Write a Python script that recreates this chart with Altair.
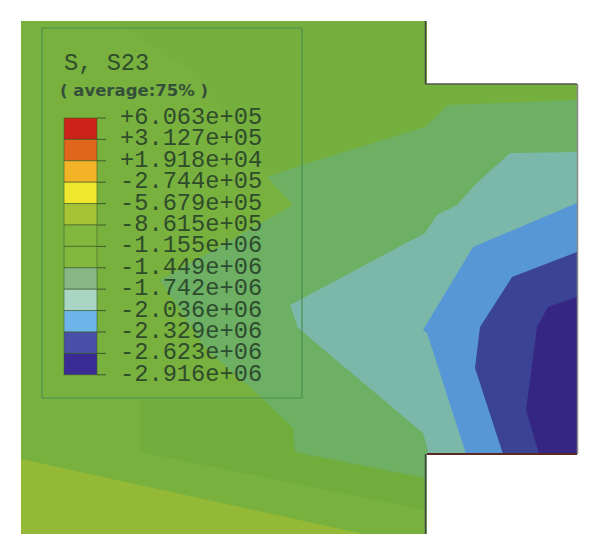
import altair as alt
import pandas as pd

# contour boundaries: region extends from x (at height y) to its right edge
c_low_y = [459, 534]
c_low_x = [21, 363]
c_top_y = [21, 40, 75, 177, 205]
c_top_x = [115, 143, 197, 267, 293]
c_dark_y = [400, 452, 510, 534]
c_dark_x = [140, 140, 425, 425]
c_mid_y = [100, 105, 127, 165, 177, 205, 280, 350, 390, 428, 452, 478, 534]
c_mid_x = [577, 448, 425, 302, 267, 293, 160, 207, 253, 293, 295, 425, 425]
c_teal_y = [152, 153, 183, 205, 215, 233, 305, 328, 433, 447, 454]
c_teal_x = [577, 510, 477, 457, 437, 425, 290, 298, 423, 427, 428]
c_blue_y = [203, 247, 330, 333, 454]
c_blue_x = [577, 473, 423, 427, 466]
c_med_y = [252, 277, 327, 368, 454]
c_med_x = [577, 512, 480, 475, 503]
c_deep_y = [297, 307, 327, 410, 454]
c_deep_x = [577, 548, 537, 526, 539]

legend_labels = ["+6.063e+05", "+3.127e+05", "+1.918e+04", "-2.744e+05", "-5.679e+05",
                 "-8.615e+05", "-1.155e+06", "-1.449e+06", "-1.742e+06", "-2.036e+06",
                 "-2.329e+06", "-2.623e+06", "-2.916e+06"]
swatch_colors = ["#cb2318", "#e0661c", "#f3b326", "#efe62e", "#a5c335", "#82b83e",
                 "#82b83e", "#87b886", "#a9d5c4", "#6eb6ea", "#4850a8", "#3a2a94"]

X = alt.Scale(domain=[8, 592], range=[0, 584], nice=False, zero=False)
Y = alt.Scale(domain=[8, 548], range=[0, 540], nice=False, zero=False)


def xe(f="x"):
    return alt.X(f"{f}:Q", scale=X, axis=None)


def ye(f="y"):
    return alt.Y(f"{f}:Q", scale=Y, axis=None)


def region(ys, xs, color, right=577):
    df = pd.DataFrame({"y": ys, "x": xs, "r": [right] * len(ys)})
    return alt.Chart(df).mark_area(orient="horizontal", color=color, opacity=1, interpolate="linear").encode(
        y=ye(), x=xe(), x2="r:Q")


def box(l, t, r, b, **kw):
    df = pd.DataFrame({"l": [l], "t": [t], "r": [r], "b": [b]})
    return alt.Chart(df).mark_rect(**kw).encode(x=xe("l"), x2="r:Q", y=ye("t"), y2="b:Q")


def seg(x1, y1, x2, y2, color, w):
    df = pd.DataFrame({"x": [x1], "y": [y1], "x2": [x2], "y2": [y2]})
    return alt.Chart(df).mark_rule(color=color, strokeWidth=w).encode(x=xe(), y=ye(), x2="x2:Q", y2="y2:Q")


low = pd.DataFrame({"x": c_low_x, "y": c_low_y, "y2": [534, 534]})

layers = [
    box(21, 21, 577, 534, color="#79b13e"),
    region(c_top_y, c_top_x, "#75af3e"),
    region(c_dark_y, c_dark_x, "#70ad3c", right=425),
    region(c_mid_y, c_mid_x, "#6daf63"),
    region(c_teal_y, c_teal_x, "#7cb8a9"),
    region(c_blue_y, c_blue_x, "#5797d6"),
    region(c_med_y, c_med_x, "#3b4395"),
    region(c_deep_y, c_deep_x, "#362684"),
]

# the yellow-green wedge runs over the darker band
layers.append(alt.Chart(low).mark_area(color="#93b936").encode(x=xe(), y=ye(), y2="y2:Q"))

# white masks for the notches
layers += [
    box(427, 8, 592, 84, color="white"),
    box(427, 454, 592, 548, color="white"),
    seg(425.5, 21, 425.5, 84, "#444444", 1.5),
    seg(425.5, 84, 577, 84, "#555555", 1.5),
    seg(577.5, 84, 577.5, 454, "#888888", 1.5),
    seg(427, 454, 577, 454, "#5a2a22", 2),
    seg(425.5, 454, 425.5, 534, "#444444", 1.5),
]

# legend frame
layers.append(box(42, 28, 302, 398, fill="#6aa84f", fillOpacity=0, stroke="#4a8f50", strokeWidth=1.2))

# legend swatches, ticks and labels, spaced by rank
top, step = 118, 21.4
sw = pd.DataFrame({"c": swatch_colors})
sw["i"] = range(len(sw))
sw["t"] = top + sw["i"] * step
sw["b"] = sw["t"] + step
layers.append(alt.Chart(sw).mark_rect(stroke="#3d5a2a", strokeWidth=0.6).encode(
    x=alt.value(64 - 8), x2=alt.value(97 - 8), y=ye("t"), y2="b:Q",
    color=alt.Color("c:N", scale=None)))

lab = pd.DataFrame({"t": legend_labels})
lab["i"] = range(len(lab))
lab["y"] = top + lab["i"] * step
lab["x"] = 97
lab["x2"] = 106
layers.append(alt.Chart(lab).mark_rule(color="#3d5a2a", strokeWidth=1).encode(
    x=xe(), x2="x2:Q", y=ye()))
lab["tx"] = 120
lab["ty"] = lab["y"] - 1
layers.append(alt.Chart(lab).mark_text(align="left", baseline="middle", font="Liberation Mono", fontSize=23.7,
                                       color="#27422a", opacity=0.9).encode(
    x=xe("tx"), y=ye("ty"), text="t:N"))

title = pd.DataFrame({"x": [64], "y": [63], "t": ["S, S23"]})
layers.append(alt.Chart(title).mark_text(align="left", baseline="middle", font="Liberation Mono", fontSize=23.7,
                                         color="#27422a", opacity=0.9).encode(x=xe(), y=ye(), text="t:N"))
sub = pd.DataFrame({"x": [60], "y": [91], "t": ["( average:75% )"]})
layers.append(alt.Chart(sub).mark_text(align="left", baseline="middle", font="DejaVu Sans", fontSize=16.5,
                                       fontWeight="bold", color="#35503a").encode(x=xe(), y=ye(), text="t:N"))

chart = alt.layer(*layers).resolve_scale(color="independent").properties(
    width=584, height=540, padding=0, background="white")
chart = chart.configure_view(stroke=None)
chart.save("out.html", embed_options={"renderer": "svg", "actions": False})
